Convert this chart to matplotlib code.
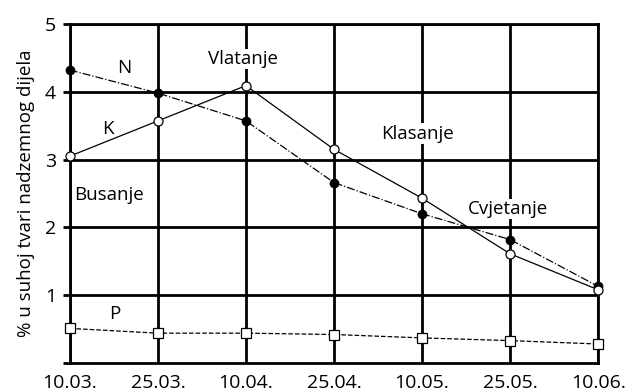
import matplotlib.pyplot as plt

plt.rcParams["font.family"] = ["Open Sans", "DejaVu Sans"]

dates = ["10.03.", "25.03.", "10.04.", "25.04.", "10.05.", "25.05.", "10.06."]
n_vals = [4.32, 3.98, 3.57, 2.66, 2.20, 1.82, 1.13]
k_vals = [3.05, 3.57, 4.09, 3.15, 2.43, 1.61, 1.08]
p_vals = [0.51, 0.44, 0.44, 0.42, 0.37, 0.33, 0.28]
y_ticks = [0, 1, 2, 3, 4, 5]
y_labels = ["", "1", "2", "3", "4", "5"]

fig = plt.figure(figsize=(6.29, 3.92), dpi=100)
ax = fig.add_axes([0.111, 0.074, 0.840, 0.865])

x = list(range(len(dates)))

# grid drawn by hand so it sits under the phase labels
for xi in x:
    ax.axvline(xi, color="black", lw=2, zorder=1)
for yv in y_ticks[1:]:
    ax.axhline(yv, color="black", lw=2, zorder=1)

ax.plot(x, n_vals, color="black", lw=0.9, ls="-.", marker="o",
        ms=6, mfc="black", mec="black", zorder=3, clip_on=False)
ax.plot(x, k_vals, color="black", lw=0.9, ls="-", marker="o",
        ms=6.5, mfc="white", mec="black", mew=0.9, zorder=4, clip_on=False)
ax.plot(x, p_vals, color="black", lw=0.9, ls="--", marker="s",
        ms=6.5, mfc="white", mec="black", mew=0.9, zorder=3, clip_on=False)

ax.set_xlim(0, 6)
ax.set_ylim(0, 5)
ax.set_xticks(x)
ax.set_xticklabels(dates)
ax.set_yticks(y_ticks)
ax.set_yticklabels(y_labels)
ax.tick_params(axis="x", length=0, labelsize=14, pad=18)
for lbl in ax.get_xticklabels():
    lbl.set_va("baseline")
ax.tick_params(axis="y", length=5, width=2, labelsize=14, pad=5)
for side in ["top", "right", "left", "bottom"]:
    ax.spines[side].set_linewidth(2)
ax.set_ylabel("% u suhoj tvari nadzemnog dijela", fontsize=13.5, labelpad=7)

bg = dict(facecolor="white", edgecolor="none", pad=1)
fs = 13.5
ax.text(0.62, 4.35, "N", fontsize=fs, ha="center", va="center")
ax.text(0.43, 3.45, "K", fontsize=fs, ha="center", va="center")
ax.text(0.51, 0.72, "P", fontsize=fs, ha="center", va="center")
ax.text(1.97, 4.48, "Vlatanje", fontsize=fs, ha="center", va="center", bbox=bg, zorder=2)
ax.text(3.95, 3.38, "Klasanje", fontsize=fs, ha="center", va="center", bbox=bg, zorder=2)
ax.text(0.05, 2.48, "Busanje", fontsize=fs, ha="left", va="center", zorder=2)
ax.text(4.98, 2.27, "Cvjetanje", fontsize=fs, ha="center", va="center", bbox=bg, zorder=2)

fig.savefig("out.png", dpi=100)
